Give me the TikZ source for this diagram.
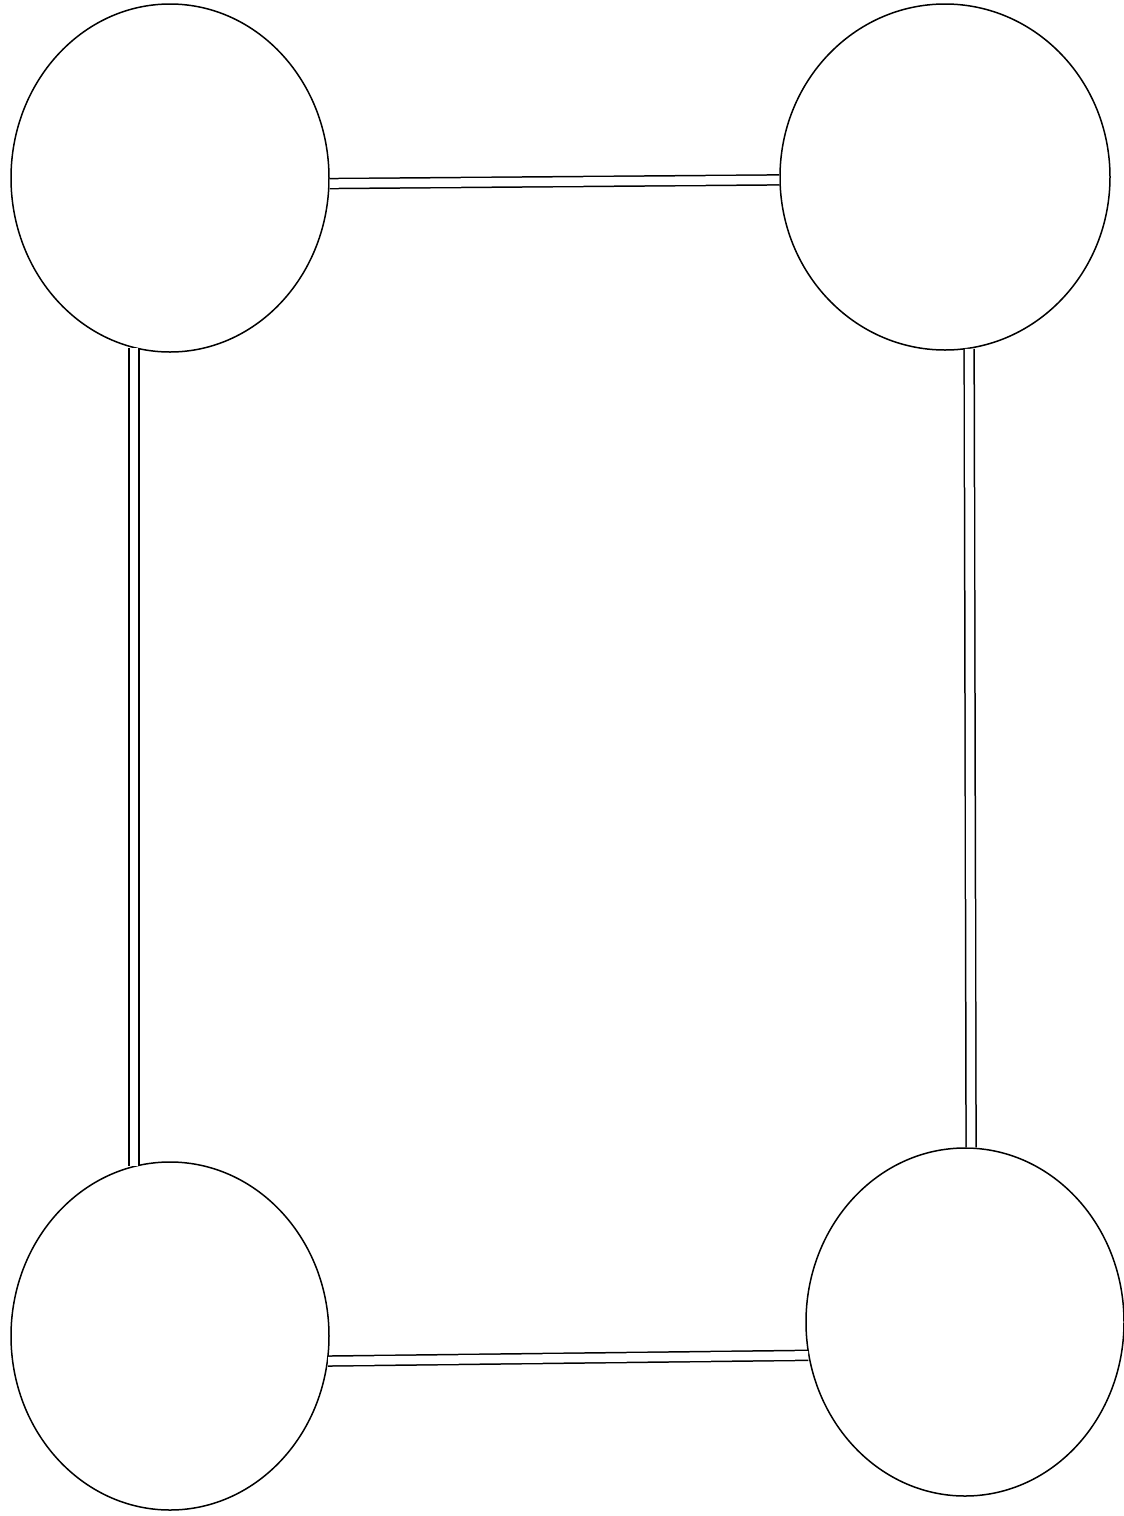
\documentclass[tikz,border=0pt]{standalone}
\usetikzlibrary{shapes.geometric}
\begin{document}
\begin{tikzpicture}[x=1pt,y=-1pt,
  blob/.style={draw=black,ellipse,line width=1.5pt,inner sep=0pt,fill=white},
  link/.style={draw=black,line width=1.5pt,double=white,double distance=8.5pt}]
\useasboundingbox (0,0) rectangle (1124,1516);
\node[blob,minimum width=318pt,minimum height=348pt] (e1) at (170,178) {};
\node[blob,minimum width=330pt,minimum height=346pt] (e2) at (945,177) {};
\node[blob,minimum width=318pt,minimum height=348pt] (e3) at (170,1336) {};
\node[blob,minimum width=318pt,minimum height=348pt] (e4) at (965,1322) {};
\draw[link] (e1.-2) -- (e2.181.3);
\draw[link] (e1.258.3) -- (e3.102.6);
\draw[link] (e2.278.8) -- (e4.88.8);
\draw[link] (e3.-9.8) -- (e4.192.9);
\end{tikzpicture}
\end{document}
